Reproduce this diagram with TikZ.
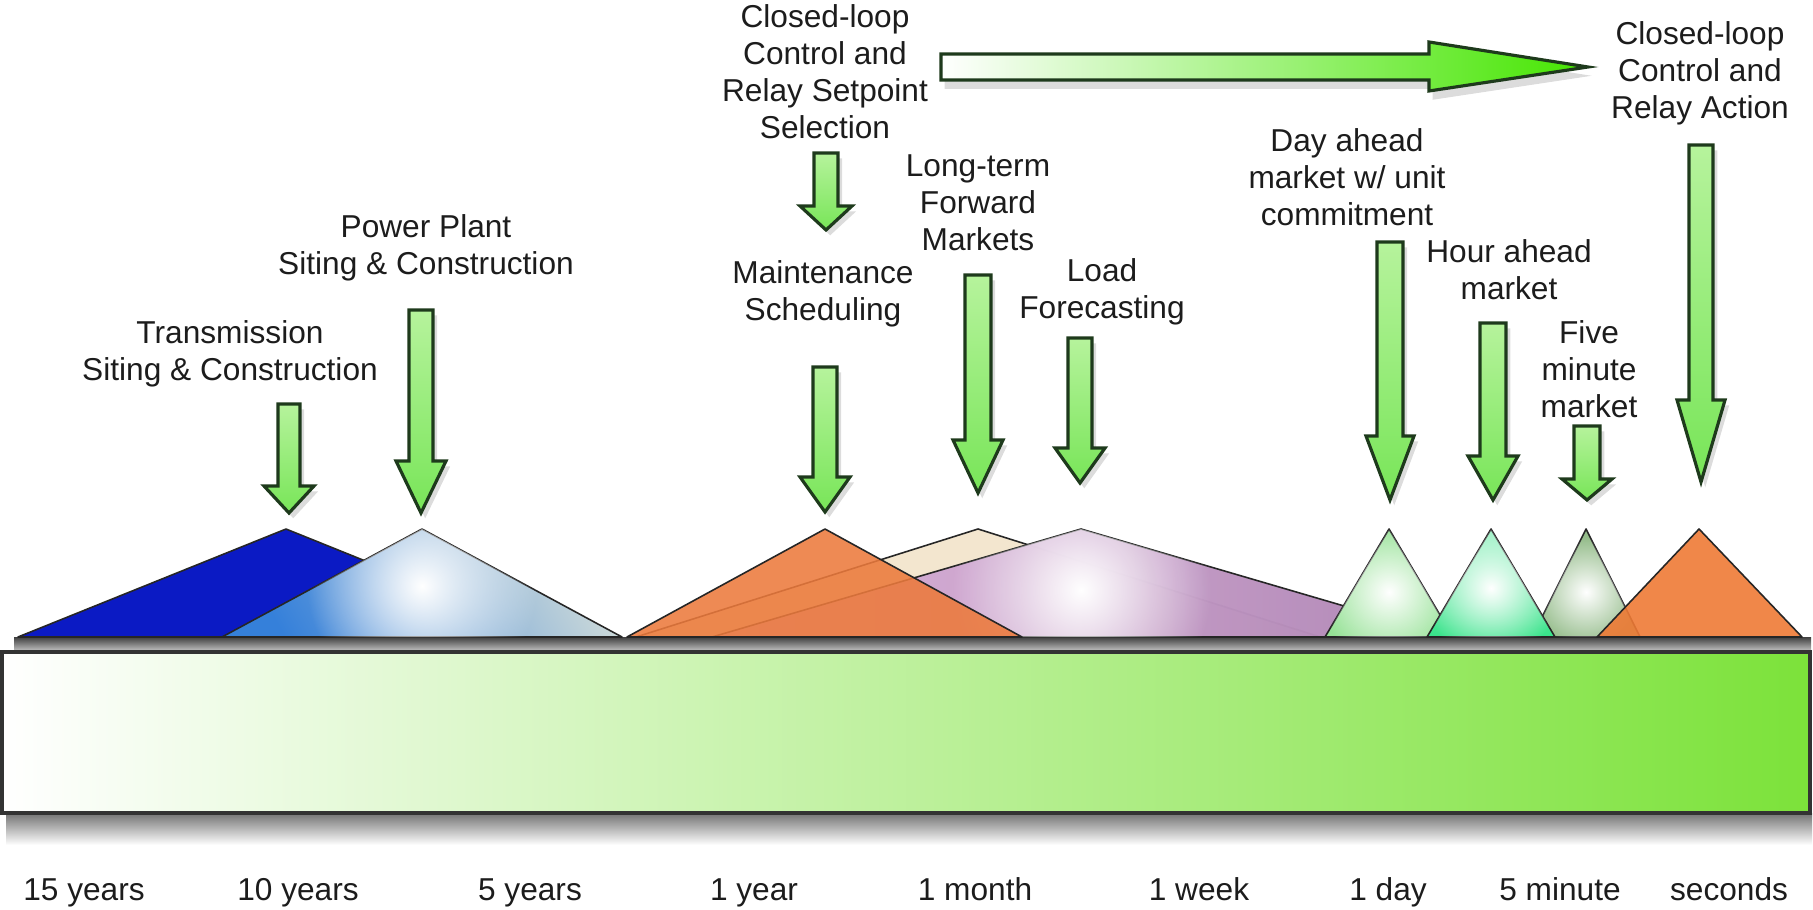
\documentclass[tikz,border=0pt]{standalone}
\usepackage{fontspec}
\setmainfont{Liberation Sans}
\usetikzlibrary{shadows,fadings}

\definecolor{arrowline}{HTML}{1E3A1C}
\definecolor{arrowtop}{HTML}{B6F39C}
\definecolor{arrowbot}{HTML}{78E558}
\definecolor{bargreen}{HTML}{7CE23A}
\definecolor{labeltext}{HTML}{1C1C1C}

\tikzfading[name=glowfade, inner color=transparent!0, outer color=transparent!100]

\tikzset{
  lbl/.style={font=\fontsize{9}{10.5}\selectfont, align=center, inner sep=0pt, text=labeltext},
  tick/.style={font=\fontsize{9}{10.5}\selectfont, anchor=base, inner sep=0pt, text=labeltext},
  hill/.style={draw=black!85, line width=0.45pt, line join=round},
  downarr/.style={draw=arrowline, line width=0.9pt, line join=miter, top color=arrowtop, bottom color=arrowbot,
    drop shadow={opacity=0.28, shadow xshift=1.2pt, shadow yshift=-1.5pt}},
  sidearr/.style={draw=arrowline, line width=0.9pt, line join=miter, left color=white, right color=green!60!lime!90!black,
    drop shadow={opacity=0.28, shadow xshift=1pt, shadow yshift=-2.5pt}},
  bar/.style={draw=black!80, line width=1pt, left color=white, right color=bargreen}
}

% x, shaft top, head top, tip, shaft half width, head half width
\newcommand{\dnarrow}[6]{%
  \draw[downarr] (#1-#5,#2) -- (#1+#5,#2) -- (#1+#5,#3) -- (#1+#6,#3) -- (#1,#4) -- (#1-#6,#3) -- (#1-#5,#3) -- cycle;}

% left x, apex x, right x, glow y, glow size
\newcommand{\glowspot}[5]{%
  \begin{scope}
    \clip (#1,637) -- (#2,529) -- (#3,637) -- cycle;
    \fill[white, path fading=glowfade] (#2,#4) circle[radius=#5];
  \end{scope}}

\begin{document}
\begin{tikzpicture}[x=0.01cm, y=-0.01cm]
\useasboundingbox (0,0) rectangle (1813,910);

% timeline bar
\shade[top color=black!55, bottom color=white] (6,813) rectangle (1812,845);
\shade[top color=black!75, bottom color=black!20] (14,637) rectangle (1811,652);
\shade[bar] (2,652) rectangle (1810,813);

% planning horizons
\definecolor{col}{HTML}{0B1AC4}
\filldraw[hill, fill=col] (18,637) -- (286,529) -- (554,637) -- cycle;
\definecolor{col}{HTML}{3580DA}
\filldraw[hill, top color=teal!35!gray!30!white, bottom color=col, shading angle=-60] (222,637) -- (422,529) -- (622,637) -- cycle;
\glowspot{222}{422}{622}{586}{115}
\definecolor{col}{HTML}{F3E6CF}
\filldraw[hill, fill=col] (636,637) -- (978,529) -- (1320,637) -- cycle;
\definecolor{col}{HTML}{C898CE}
\filldraw[hill, left color=magenta!18!white, right color=col, fill opacity=0.85] (712,637) -- (1081,529) -- (1450,637) -- cycle;
\glowspot{712}{1081}{1450}{590}{130}
\definecolor{col}{HTML}{EC7A3C}
\filldraw[hill, fill=col, fill opacity=0.88] (627,637) -- (825,529) -- (1022,637) -- cycle;
\definecolor{col}{HTML}{94BC8A}
\filldraw[hill, fill=col] (1532,637) -- (1586,529) -- (1640,637) -- cycle;
\glowspot{1532}{1586}{1640}{592}{55}
\definecolor{col}{HTML}{96E296}
\filldraw[hill, fill=col] (1325,637) -- (1389,529) -- (1453,637) -- cycle;
\glowspot{1325}{1389}{1453}{592}{70}
\definecolor{col}{HTML}{38E38A}
\filldraw[hill, top color=col!55!white, bottom color=col] (1427,637) -- (1491,529) -- (1555,637) -- cycle;
\glowspot{1427}{1491}{1555}{588}{70}
\definecolor{col}{HTML}{EE7A35}
\filldraw[hill, fill=col, fill opacity=0.9] (1597,637) -- (1699,529) -- (1802,637) -- cycle;

% labels
\node[lbl] (trans) at (230,354) {Transmission\\Siting \& Construction};
\node[lbl] (plant) at (426,248) {Power Plant\\Siting \& Construction};
\node[lbl] (setpoint) at (825,72) {Closed-loop\\Control and\\Relay Setpoint\\Selection};
\node[lbl] (maint) at (823,294) {Maintenance\\Scheduling};
\node[lbl] (fwd) at (978,203) {Long-term\\Forward\\Markets};
\node[lbl] (load) at (1102,292) {Load\\Forecasting};
\node[lbl] (dayahead) at (1347,177) {Day ahead\\market w/ unit\\commitment};
\node[lbl] (hourahead) at (1509,270) {Hour ahead\\market};
\node[lbl] (fivemin) at (1589,369) {Five\\minute\\market};
\node[lbl] (action) at (1700,73) {Closed-loop\\Control and\\Relay Action};

% arrows
\draw[sidearr] (941,54) -- (1429,54) -- (1429,42) -- (1588,67) -- (1429,91) -- (1429,80) -- (941,80) -- cycle;
\dnarrow{289}{404}{486}{513}{11}{25}
\dnarrow{421}{310}{461}{513}{12}{25}
\dnarrow{826}{153}{206}{230}{12}{26}
\dnarrow{825}{367}{477}{512}{12}{25}
\dnarrow{978}{275}{440}{493}{13}{25}
\dnarrow{1080}{338}{448}{483}{12}{25}
\dnarrow{1390}{242}{436}{500}{13}{24}
\dnarrow{1493}{323}{456}{500}{13}{25}
\dnarrow{1587}{426}{479}{500}{13}{25}
\dnarrow{1701}{145}{400}{482}{12}{24}

% time scale
\node[tick] (t15y) at (84,900) {15 years};
\node[tick] (t10y) at (298,900) {10 years};
\node[tick] (t5y) at (530,900) {5 years};
\node[tick] (t1y) at (754,900) {1 year};
\node[tick] (t1m) at (975,900) {1 month};
\node[tick] (t1w) at (1199,900) {1 week};
\node[tick] (t1d) at (1388,900) {1 day};
\node[tick] (t5m) at (1560,900) {5 minute};
\node[tick] (tsec) at (1729,900) {seconds};
\end{tikzpicture}
\end{document}
